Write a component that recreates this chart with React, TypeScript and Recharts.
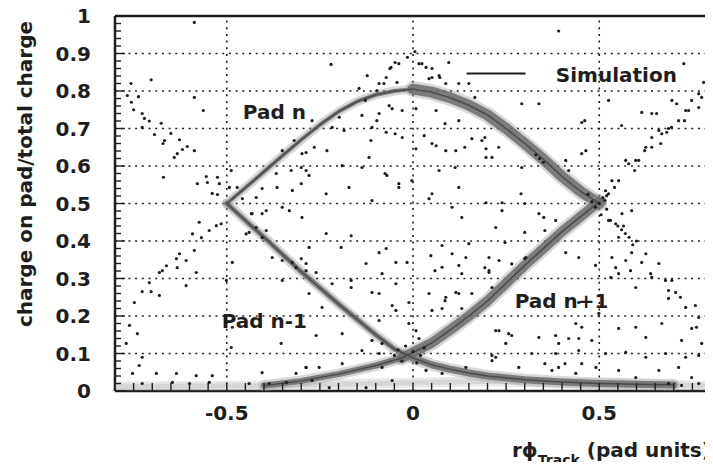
import { ScatterChart, Scatter, XAxis, YAxis, ReferenceLine, ReferenceDot } from 'recharts';

type Pt = [number, number];

const INK = '#1e1e1e';
const FONT = '"DejaVu Sans", Verdana, sans-serif';

// response of pad n, rising and falling flank
const padNRise: Pt[] = [
  [-0.5, 0.5], [-0.45, 0.542], [-0.4, 0.585], [-0.35, 0.628], [-0.3, 0.67], [-0.25, 0.71],
  [-0.2, 0.745], [-0.15, 0.772], [-0.1, 0.79], [-0.05, 0.8], [0, 0.805],
];
const padNFall: Pt[] = [
  [0, 0.805], [0.05, 0.797], [0.1, 0.782], [0.15, 0.762], [0.2, 0.736], [0.25, 0.7],
  [0.3, 0.66], [0.35, 0.618], [0.4, 0.572], [0.45, 0.532], [0.5, 0.5],
];
// pad n-1
const padNm1Fall: Pt[] = [
  [-0.5, 0.5], [-0.4, 0.41], [-0.3, 0.318], [-0.2, 0.232], [-0.1, 0.15], [-0.05, 0.112], [0, 0.088],
];
const padNm1Tail: Pt[] = [
  [0, 0.088], [0.05, 0.07], [0.1, 0.058], [0.15, 0.048], [0.2, 0.04], [0.3, 0.03], [0.4, 0.024],
  [0.5, 0.02], [0.6, 0.018], [0.7, 0.016],
];
// pad n+1
const padNp1Low: Pt[] = [
  [-0.4, 0.014], [-0.3, 0.027], [-0.2, 0.045], [-0.1, 0.068], [-0.03, 0.088],
];
const padNp1Rise: Pt[] = [
  [-0.03, 0.088], [0.05, 0.128], [0.1, 0.163], [0.15, 0.2], [0.2, 0.24], [0.3, 0.335], [0.4, 0.425], [0.5, 0.505],
];
const bottomFuzz: Pt[] = [
  [-0.8, 0.012], [-0.4, 0.014], [-0.1, 0.02], [0.2, 0.026], [0.5, 0.02], [0.8, 0.014],
];

// single events
const events: Pt[] = [
  // upper left
  [-0.587, 0.983], [-0.757, 0.82], [-0.703, 0.83], [-0.767, 0.788], [-0.737, 0.785], [-0.756, 0.77],
  [-0.75, 0.75], [-0.727, 0.74], [-0.721, 0.727], [-0.708, 0.72], [-0.676, 0.714], [-0.727, 0.703],
  [-0.694, 0.684], [-0.65, 0.687], [-0.667, 0.668], [-0.671, 0.66], [-0.627, 0.67], [-0.606, 0.652],
  [-0.619, 0.644], [-0.587, 0.641], [-0.633, 0.633], [-0.641, 0.623], [-0.563, 0.748], [-0.587, 0.783],
  [-0.67, 0.57], [-0.579, 0.553], [-0.555, 0.572], [-0.552, 0.556], [-0.525, 0.57], [-0.52, 0.553],
  [-0.539, 0.527], [-0.525, 0.524],
  [-0.488, 0.588], [-0.493, 0.543], [-0.472, 0.543], [-0.458, 0.513], [-0.421, 0.516], [-0.434, 0.473],
  [-0.351, 0.641], [-0.319, 0.668], [-0.298, 0.633], [-0.367, 0.58], [-0.365, 0.543], [-0.405, 0.54],
  [-0.394, 0.481], [-0.327, 0.588], [-0.3, 0.596], [-0.287, 0.588], [-0.324, 0.535],
  // around the pad n maximum
  [-0.22, 0.871], [-0.123, 0.841], [-0.145, 0.807], [-0.091, 0.82], [-0.072, 0.836], [-0.059, 0.863],
  [-0.038, 0.873], [-0.043, 0.823], [0.016, 0.873], [0.035, 0.863], [0.051, 0.836], [0.07, 0.841],
  [0.088, 0.82], [0.15, 0.82], [-0.048, 0.876], [-0.062, 0.86], [0.024, 0.873], [0.051, 0.86],
  [0.043, 0.833], [0.072, 0.836], [0.096, 0.876], [0.123, 0.82], [0.166, 0.783], [-0.078, 0.82],
  [-0.097, 0.801], [-0.015, 0.89], [0.005, 0.905], [0.391, 0.96], [0.727, 0.873], [0.78, 0.823],
  // inside the diamond, upper half
  [-0.198, 0.73], [-0.091, 0.74], [-0.056, 0.753], [-0.029, 0.748], [0.008, 0.753], [0.062, 0.748],
  [-0.097, 0.721], [-0.217, 0.703], [-0.185, 0.695], [-0.072, 0.69], [-0.271, 0.721], [-0.287, 0.636],
  [-0.265, 0.65], [-0.231, 0.641], [-0.113, 0.668], [-0.029, 0.676], [0.008, 0.646], [0.062, 0.654],
  [0.088, 0.641], [0.115, 0.641], [0.158, 0.673], [0.196, 0.646], [0.212, 0.623], [-0.118, 0.623],
  [-0.19, 0.601], [-0.137, 0.596], [-0.07, 0.575], [-0.038, 0.553], [-0.172, 0.543], [-0.233, 0.526],
  [0.051, 0.526], [0.123, 0.543], [0.043, 0.513], [0.105, 0.49], [0.196, 0.502], [-0.3, 0.553],
  [-0.279, 0.575], [-0.128, 0.775], [-0.137, 0.735], [-0.064, 0.761], [-0.11, 0.703], [-0.048, 0.686],
  [0.03, 0.681], [0.051, 0.66], [0.086, 0.713], [0.123, 0.721], [0.193, 0.676], [0.23, 0.65],
  [0.139, 0.65], [-0.075, 0.58], [-0.003, 0.561], [0.07, 0.588], [0.113, 0.596], [-0.11, 0.508],
  [-0.038, 0.543], [0.131, 0.463], [0.239, 0.481], [0.3, 0.5], [0.338, 0.473], [0.354, 0.428],
  [0.3, 0.423], [0.418, 0.588], [0.453, 0.633], [0.461, 0.721], [0.292, 0.766], [0.338, 0.766],
  [0.41, 0.615], [0.292, 0.596], [0.29, 0.526], [0.351, 0.463], [0.383, 0.455], [0.222, 0.436],
  [0.239, 0.502], [0.196, 0.623], [0.185, 0.668], [0.464, 0.641], [0.453, 0.716],
  [0.33, 0.63], [0.34, 0.62], [0.35, 0.61],
  // right of 0.5, upper
  [0.525, 0.775], [0.56, 0.708], [0.614, 0.743], [0.654, 0.74], [0.668, 0.686], [0.694, 0.703],
  [0.729, 0.721], [0.767, 0.756], [0.775, 0.783], [0.708, 0.766], [0.622, 0.641], [0.606, 0.615],
  [0.579, 0.606], [0.552, 0.561], [0.541, 0.543], [0.525, 0.526], [0.515, 0.508], [0.595, 0.588],
  [0.641, 0.65], [0.681, 0.69], [0.74, 0.748], [0.641, 0.74], [0.732, 0.748], [0.695, 0.775],
  [0.748, 0.775], [0.767, 0.793], [0.713, 0.721], [0.686, 0.7], [0.66, 0.695], [0.641, 0.676],
  [0.665, 0.66], [0.625, 0.65], [0.571, 0.615], [0.598, 0.615], [0.534, 0.561], [0.517, 0.534],
  [0.52, 0.521],
  // crossing at 0.5 and pad n beyond it
  [0.5, 0.5], [0.51, 0.515], [0.49, 0.49], [0.52, 0.485], [0.505, 0.47], [0.53, 0.455], [0.48, 0.505],
  [0.47, 0.525], [0.525, 0.455], [0.544, 0.446], [0.561, 0.473], [0.587, 0.481], [0.55, 0.44],
  [0.56, 0.43], [0.57, 0.42], [0.58, 0.41], [0.6, 0.4], [0.59, 0.39], [0.565, 0.44], [0.552, 0.41],
  [0.571, 0.348], [0.534, 0.356], [0.587, 0.369], [0.625, 0.366], [0.552, 0.313], [0.584, 0.321],
  [0.638, 0.313], [0.614, 0.343], [0.66, 0.34], [0.641, 0.303], [0.678, 0.295], [0.695, 0.295],
  [0.686, 0.268], [0.705, 0.263], [0.686, 0.247], [0.718, 0.25], [0.732, 0.223], [0.758, 0.228],
  [0.767, 0.196], [0.761, 0.17], [0.748, 0.167], [0.721, 0.135], [0.775, 0.127],
  // inside the diamond, lower half
  [-0.233, 0.42], [-0.166, 0.414], [-0.279, 0.383], [-0.193, 0.383], [-0.091, 0.369], [-0.072, 0.38],
  [-0.126, 0.34], [-0.046, 0.343], [-0.016, 0.343], [-0.083, 0.313], [0.048, 0.361], [0.105, 0.366],
  [0.142, 0.356], [0.078, 0.33], [0.123, 0.335], [0.204, 0.321], [-0.287, 0.34], [-0.26, 0.316],
  [-0.217, 0.286], [-0.166, 0.295], [-0.166, 0.276], [-0.11, 0.263], [-0.091, 0.26], [-0.046, 0.286],
  [-0.011, 0.236], [0.043, 0.26], [0.088, 0.25], [0.115, 0.263], [0.158, 0.26], [0.051, 0.215],
  [0.078, 0.22], [-0.056, 0.228], [-0.046, 0.215], [-0.244, 0.223], [-0.279, 0.26], [-0.26, 0.148],
  [-0.19, 0.153], [-0.091, 0.188], [-0.011, 0.18], [0.008, 0.161], [0.016, 0.14], [-0.11, 0.135],
  [-0.083, 0.127], [-0.091, 0.1], [-0.287, 0.063], [-0.252, 0.063], [-0.19, 0.073], [-0.137, 0.108],
  [-0.083, 0.063], [-0.056, 0.028], [0.035, 0.055], [0.078, 0.047], [0.222, 0.09], [0.142, 0.063],
  [-0.271, 0.028], [-0.225, 0.009], [-0.126, 0.009],
  [-0.04, 0.11], [-0.02, 0.12], [0.0, 0.105], [0.02, 0.095], [-0.03, 0.08], [0.01, 0.075],
  [0.03, 0.115], [-0.05, 0.095],
  [0.078, 0.388], [0.15, 0.393], [0.247, 0.396], [0.204, 0.356], [0.3, 0.353], [0.059, 0.321],
  [0.131, 0.313], [0.193, 0.329], [0.212, 0.276], [0.123, 0.26], [0.086, 0.241], [0.131, 0.22],
  [0.231, 0.161], [0.257, 0.153], [0.338, 0.143], [0.391, 0.127], [0.445, 0.14], [0.48, 0.135],
  [0.408, 0.073], [0.453, 0.073], [0.373, 0.055], [0.354, 0.073],
  [0.445, 0.356], [0.41, 0.369], [0.303, 0.356], [0.231, 0.348], [0.204, 0.316], [0.265, 0.339],
  [0.49, 0.335], [0.544, 0.329], [0.531, 0.303], [0.598, 0.276], [0.445, 0.236], [0.499, 0.207],
  [0.552, 0.167], [0.598, 0.17], [0.668, 0.18], [0.625, 0.143], [0.437, 0.18], [0.453, 0.17],
  [0.418, 0.14], [0.383, 0.148], [0.265, 0.148], [0.222, 0.161], [0.249, 0.127], [0.212, 0.095],
  [0.212, 0.081], [0.319, 0.1], [0.383, 0.1], [0.445, 0.108], [0.517, 0.1], [0.571, 0.103],
  [0.625, 0.09], [0.678, 0.1], [0.732, 0.09], [0.767, 0.095], [0.284, 0.063], [0.391, 0.063],
  [0.437, 0.047], [0.491, 0.063], [0.552, 0.055], [0.598, 0.036], [0.66, 0.055], [0.713, 0.063],
  [0.748, 0.036], [0.767, 0.02], [0.686, 0.02], [0.721, 0.015],
  // lower left
  [-0.574, 0.45], [-0.547, 0.428], [-0.528, 0.441], [-0.515, 0.446], [-0.592, 0.419], [-0.568, 0.409],
  [-0.627, 0.366], [-0.635, 0.353], [-0.609, 0.348], [-0.587, 0.375], [-0.673, 0.321], [-0.681, 0.316],
  [-0.662, 0.334], [-0.633, 0.329], [-0.582, 0.316], [-0.708, 0.289], [-0.727, 0.265], [-0.703, 0.265],
  [-0.681, 0.255], [-0.748, 0.236], [-0.609, 0.281], [-0.761, 0.175], [-0.74, 0.153], [-0.77, 0.127],
  [-0.727, 0.09], [-0.735, 0.068], [-0.753, 0.047], [-0.689, 0.047], [-0.635, 0.047], [-0.582, 0.041],
  [-0.539, 0.041], [-0.488, 0.116], [-0.405, 0.049], [-0.354, 0.127], [-0.314, 0.047], [-0.287, 0.063],
  [-0.727, 0.02], [-0.646, 0.023], [-0.6, 0.02], [-0.547, 0.023], [-0.44, 0.02], [-0.386, 0.02],
  [-0.34, 0.023], [-0.421, 0.436], [-0.44, 0.423], [-0.448, 0.419], [-0.405, 0.409], [-0.394, 0.428],
  [-0.378, 0.356], [-0.351, 0.348], [-0.324, 0.343], [-0.314, 0.329], [-0.287, 0.321], [-0.3, 0.353],
  [-0.485, 0.343], [-0.501, 0.295], [-0.351, 0.295], [-0.405, 0.473], [-0.432, 0.473], [-0.351, 0.49],
  [-0.332, 0.481], [-0.298, 0.463], [-0.485, 0.17],
];

const xTicks = [
  -0.8, -0.75, -0.7, -0.65, -0.6, -0.55, -0.5, -0.45, -0.4, -0.35, -0.3, -0.25, -0.2, -0.15, -0.1, -0.05,
  0, 0.05, 0.1, 0.15, 0.2, 0.25, 0.3, 0.35, 0.4, 0.45, 0.5, 0.55, 0.6, 0.65, 0.7, 0.75, 0.8,
];
const xLabels = [-0.5, 0, 0.5];
const yTicks = [
  0, 0.02, 0.04, 0.06, 0.08, 0.1, 0.12, 0.14, 0.16, 0.18, 0.2, 0.22, 0.24, 0.26, 0.28, 0.3, 0.32, 0.34,
  0.36, 0.38, 0.4, 0.42, 0.44, 0.46, 0.48, 0.5, 0.52, 0.54, 0.56, 0.58, 0.6, 0.62, 0.64, 0.66, 0.68, 0.7,
  0.72, 0.74, 0.76, 0.78, 0.8, 0.82, 0.84, 0.86, 0.88, 0.9, 0.92, 0.94, 0.96, 0.98, 1,
];
const yGrid = [0.1, 0.2, 0.3, 0.4, 0.5, 0.6, 0.7, 0.8, 0.9];
const xGrid = [-0.5, 0, 0.5];

const toXY = (pts: Pt[]) => pts.map(([x, y]) => ({ x, y }));

const textStyle = { fontFamily: FONT, fontWeight: 700, fontSize: 20, fill: INK };

const isTenth = (v: number) => Math.abs(v * 10 - Math.round(v * 10)) < 1e-6;

const YTick = (props: any) => {
  const { x, y, payload } = props;
  const v = payload.value as number;
  const major = isTenth(v);
  return (
    <g>
      <line x1={x} x2={x + (major ? 10 : 6)} y1={y} y2={y} stroke={INK} strokeWidth={1.4} />
      {major && (
        <text x={x - 24} y={y} dy="0.36em" textAnchor="end" {...textStyle}>
          {String(Math.round(v * 10) / 10)}
        </text>
      )}
    </g>
  );
};

const XTick = (props: any) => {
  const { x, y, payload } = props;
  const v = payload.value as number;
  const major = xLabels.includes(v);
  return (
    <g>
      <line x1={x} x2={x} y1={y} y2={y - 8} stroke={INK} strokeWidth={1.4} />
      {major && (
        <text x={x} y={y + 29} textAnchor="middle" {...textStyle}>
          {String(v)}
        </text>
      )}
    </g>
  );
};

const YTitle = () => (
  <text
    x={25}
    y={174}
    transform="rotate(-90 25 174)"
    textAnchor="middle"
    dominantBaseline="central"
    {...textStyle}
  >
    charge on pad/total charge
  </text>
);

const XTitle = () => (
  <text x={512} y={457} {...textStyle}>
    rϕ
    <tspan fontSize={14} dy={8}>Track</tspan>
    <tspan dy={-8}>{'\u00a0(pad units)'}</tspan>
  </text>
);

const noShape = () => <g />;
const eventDot = (p: any) => <circle cx={p.cx} cy={p.cy} r={1.6} fill={INK} />;

// measured distribution: soft halo plus a darker core
const band = (pts: Pt[], width: number, core = '#6c6c6c', opacity = 0.85) => [
  <Scatter
    key="halo"
    data={toXY(pts)}
    line={{ stroke: '#9a9a9a', strokeWidth: width + 5, strokeOpacity: opacity * 0.45, strokeLinecap: 'round', strokeLinejoin: 'round' }}
    shape={noShape}
    isAnimationActive={false}
  />,
  <Scatter
    key="core"
    data={toXY(pts)}
    line={{ stroke: core, strokeWidth: width, strokeOpacity: opacity, strokeLinecap: 'round', strokeLinejoin: 'round' }}
    shape={noShape}
    isAnimationActive={false}
  />,
];

const simLine = (pts: Pt[]) => (
  <Scatter
    data={toXY(pts)}
    line={{ stroke: '#4a4a4a', strokeWidth: 1.5 }}
    shape={noShape}
    isAnimationActive={false}
  />
);

const padLabel = (x: number, y: number, text: string) => (
  <ReferenceDot
    x={x}
    y={y}
    r={0}
    stroke="none"
    fill="none"
    label={{ value: text, position: 'center', ...textStyle }}
  />
);

export default function App() {
  return (
    <div style={{ margin: -8 }}>
      <ScatterChart width={713} height={470} margin={{ top: 16, right: 2, left: 0, bottom: 0 }}>
        <XAxis
          type="number"
          dataKey="x"
          domain={[-0.8, 0.8]}
          ticks={xTicks}
          interval={0}
          tickSize={0}
          tickMargin={0}
          tick={XTick}
          tickLine={false}
          axisLine={{ stroke: INK, strokeWidth: 2.5 }}
          height={79}
          allowDataOverflow
          label={<XTitle />}
        />
        <YAxis
          type="number"
          dataKey="y"
          domain={[0, 1]}
          ticks={yTicks}
          interval={0}
          tickSize={0}
          tickMargin={0}
          tick={YTick}
          tickLine={false}
          axisLine={{ stroke: INK, strokeWidth: 2.5 }}
          width={115}
          allowDataOverflow
          label={<YTitle />}
        />

        {yGrid.map((v) => (
          <ReferenceLine key={`gy${v}`} y={v} stroke={INK} strokeWidth={1.6} strokeDasharray="2 4.7" />
        ))}
        {xGrid.map((v) => (
          <ReferenceLine key={`gx${v}`} x={v} stroke={INK} strokeWidth={1.6} strokeDasharray="2 4.7" />
        ))}

        {band(bottomFuzz, 5, '#c4c4c4', 0.5)}
        {band(padNRise, 4)}
        {band(padNFall, 11)}
        {band(padNm1Fall, 5)}
        {band(padNm1Tail, 7)}
        {band(padNp1Low, 6)}
        {band(padNp1Rise, 10)}

        {simLine(padNRise)}
        {simLine(padNFall)}
        {simLine(padNm1Fall)}
        {simLine(padNm1Tail)}
        {simLine(padNp1Low)}
        {simLine(padNp1Rise)}

        <Scatter data={toXY(events)} shape={eventDot} isAnimationActive={false} />

        {padLabel(-0.372, 0.743, 'Pad n')}
        {padLabel(-0.399, 0.188, 'Pad n-1')}
        {padLabel(0.399, 0.241, 'Pad n+1')}
        {padLabel(0.546, 0.844, 'Simulation')}
        <ReferenceLine
          segment={[{ x: 0.144, y: 0.847 }, { x: 0.302, y: 0.847 }]}
          stroke={INK}
          strokeWidth={2}
        />

        <ReferenceLine y={1} stroke={INK} strokeWidth={2.5} />
        <ReferenceLine x={0.8} stroke={INK} strokeWidth={2.5} />
      </ScatterChart>
    </div>
  );
}
